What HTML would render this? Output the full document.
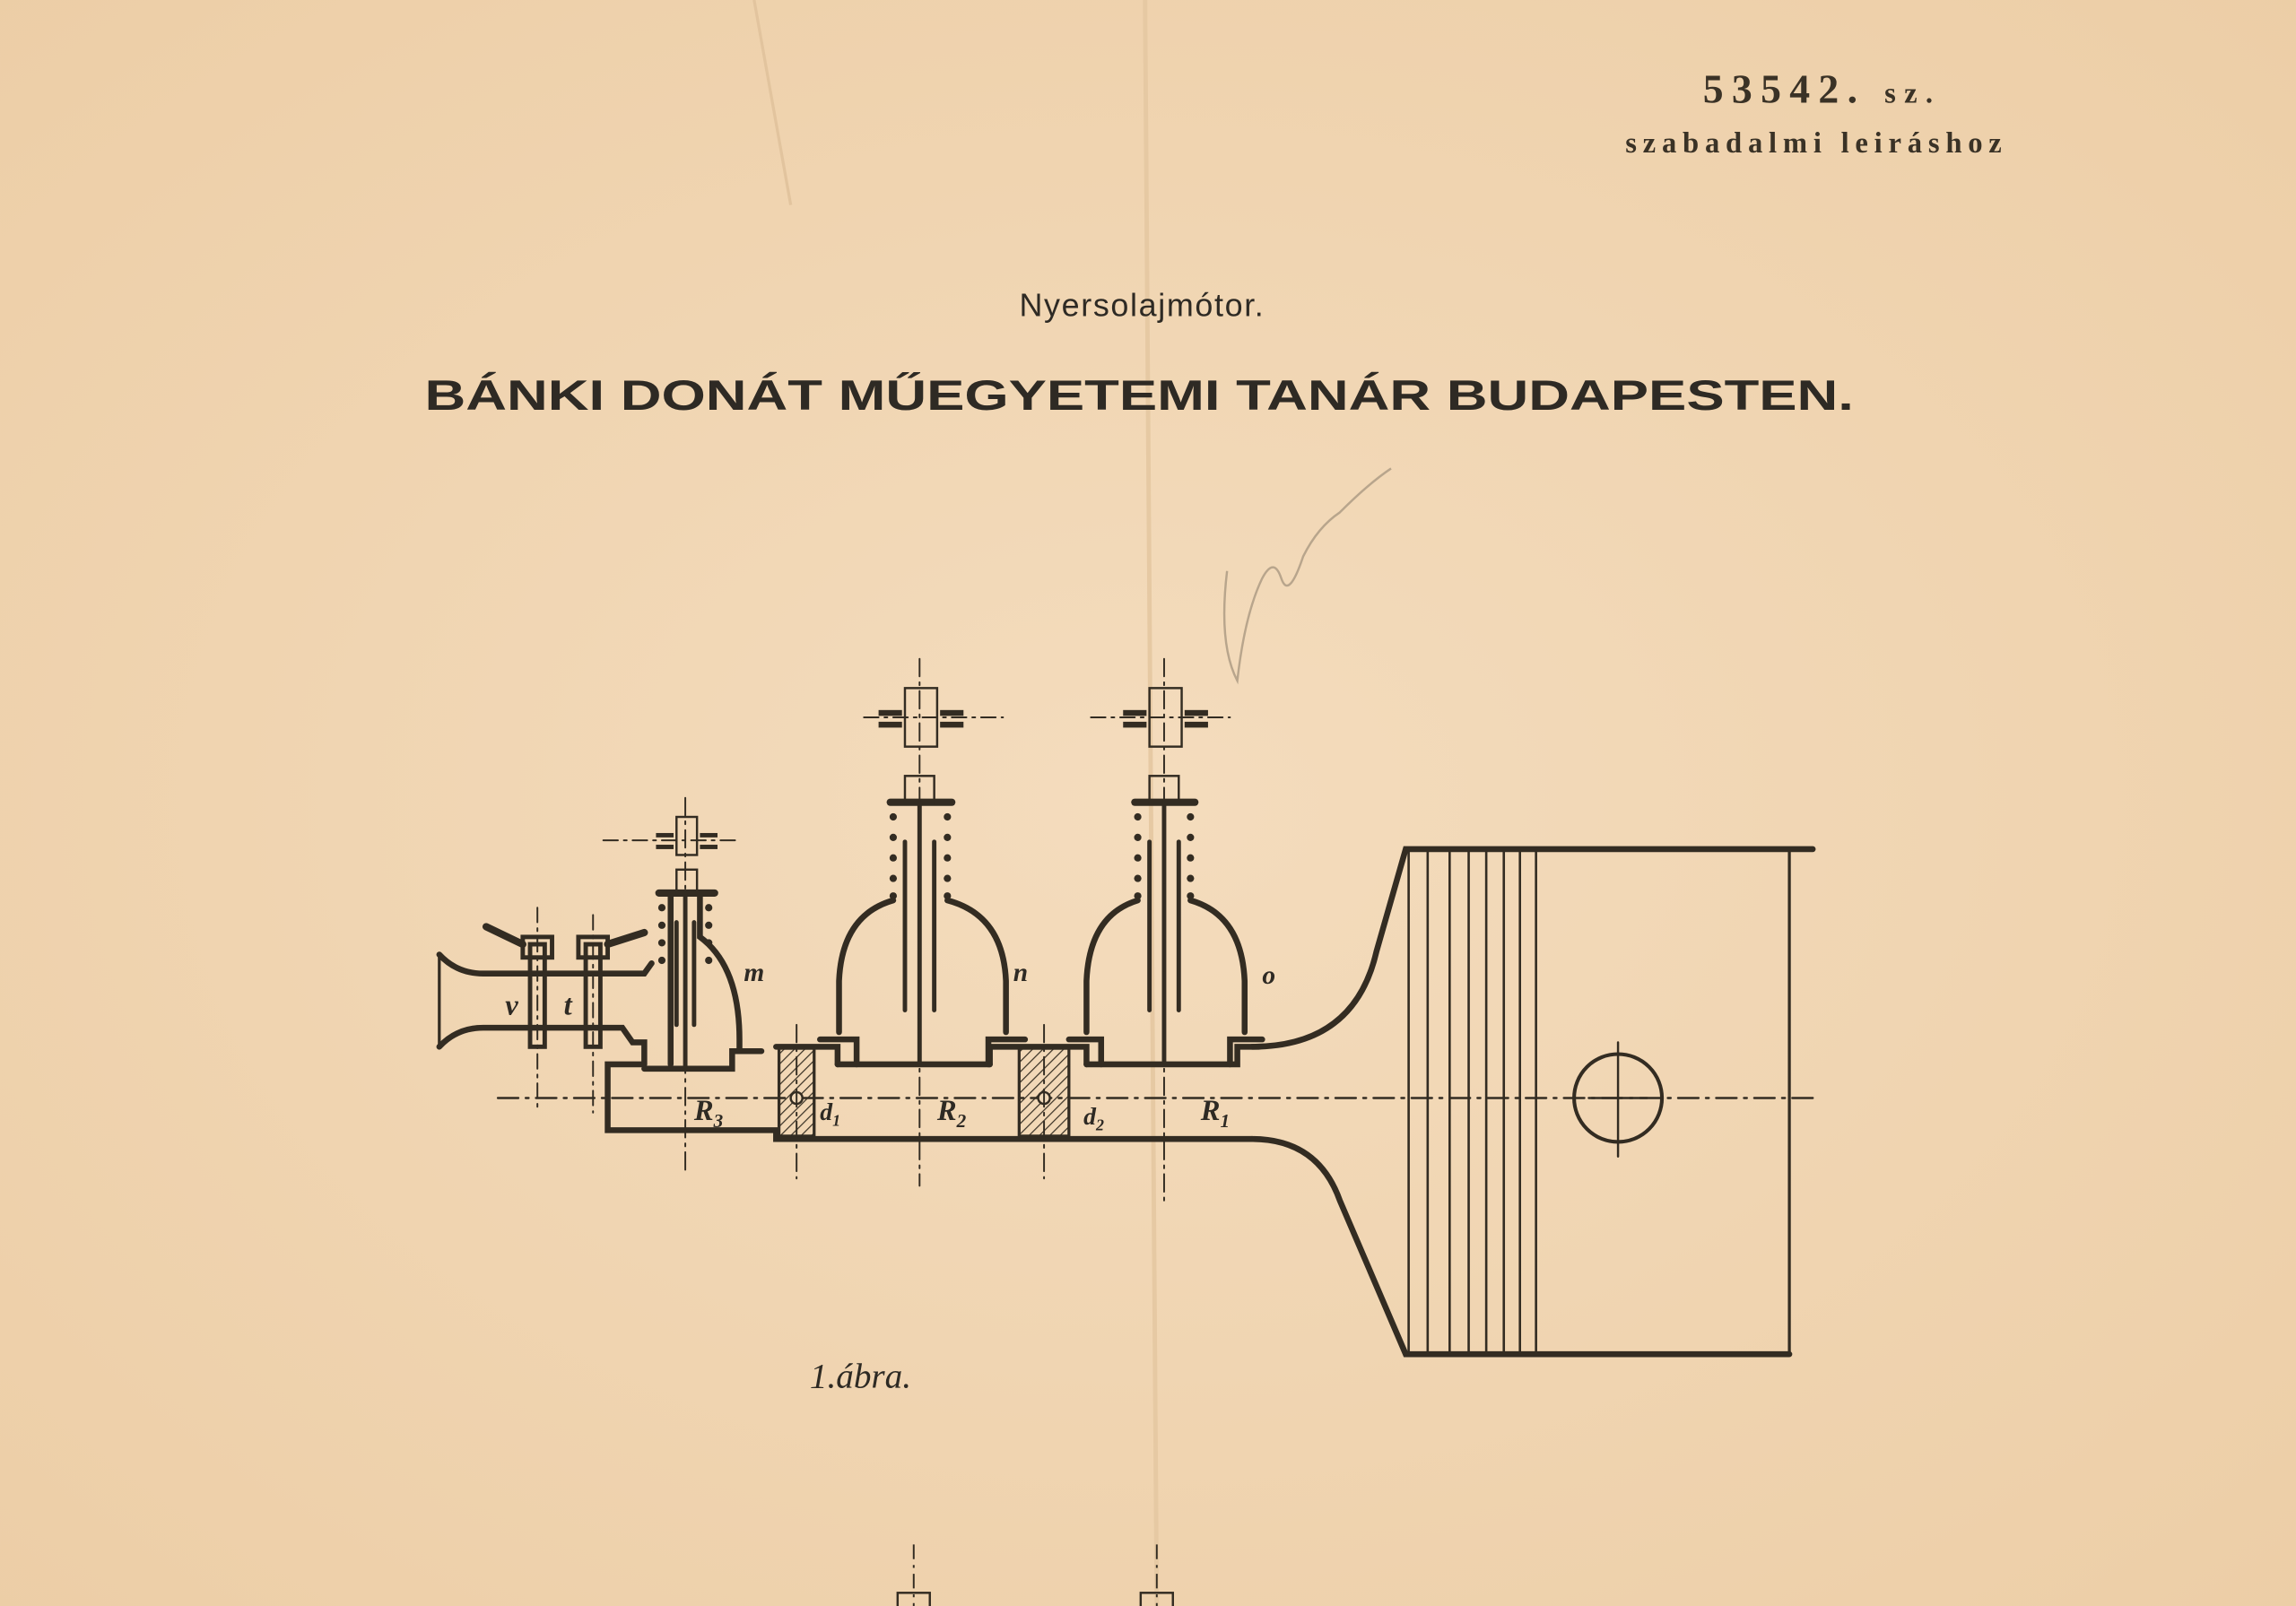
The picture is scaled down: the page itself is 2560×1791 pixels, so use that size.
<!DOCTYPE html>
<html><head><meta charset="utf-8"><style>
html,body{margin:0;padding:0;background:#f0d6b3;}
svg{display:block;}
</style></head><body>
<svg width="2560" height="1791" viewBox="0 0 1568 1097" xmlns="http://www.w3.org/2000/svg">
<defs>
<radialGradient id="bg" cx="50%" cy="50%" r="75%">
<stop offset="0" stop-color="#f4dcbd"/><stop offset="1" stop-color="#eccda5"/></radialGradient>
<pattern id="hat" width="5" height="5" patternUnits="userSpaceOnUse" patternTransform="rotate(45)">
<line x1="0" y1="0" x2="0" y2="5" stroke="#3a3226" stroke-width="1.5"/></pattern>
</defs>
<rect width="1568" height="1097" fill="url(#bg)"/>
<line x1="515" y1="0" x2="540" y2="140" stroke="#e2c49e" stroke-width="2"/>
<line x1="782" y1="0" x2="790" y2="1097" stroke="#e6c9a3" stroke-width="3"/>
<g font-family="Liberation Serif, serif" font-weight="bold" fill="#3a3226">
<text x="1163" y="70" font-size="28" textLength="157" lengthAdjust="spacing">53542. <tspan font-size="20">sz.</tspan></text>
<text x="1110" y="104" font-size="20" textLength="257" lengthAdjust="spacing">szabadalmi leiráshoz</text>
</g>
<g font-family="Liberation Sans, sans-serif" fill="#2e2a24" text-anchor="middle">
<text x="780" y="216" font-size="22" letter-spacing="1">Nyersolajmótor.</text>
<text x="778" y="280" font-size="29" font-weight="bold" textLength="976" lengthAdjust="spacingAndGlyphs">BÁNKI DONÁT MŰEGYETEMI TANÁR BUDAPESTEN.</text>
</g>
<text x="553" y="948" font-family="Liberation Serif, serif" font-style="italic" font-size="24" fill="#2e2a24">1.ábra.</text>
<path d="M838 390 Q832 440 845 465 Q850 420 862 395 Q870 380 875 395 Q880 410 890 380 Q900 360 915 350 Q935 330 950 320" stroke="#b8a58c" fill="none" stroke-width="1.5"/>
<g stroke="#332c22" fill="none" stroke-linecap="round">
<path d="M855 715 Q925 715 940 650 L960 580 L1238 580" stroke-width="4"/>
<path d="M855 778 Q900 778 915 820 L960 925 L1222 925" stroke-width="4"/>
<line x1="1222" y1="580" x2="1222" y2="925" stroke-width="2"/>
<g stroke-width="1.6">
<line x1="962" y1="582" x2="962" y2="923"/><line x1="975" y1="582" x2="975" y2="923"/>
<line x1="990" y1="582" x2="990" y2="923"/><line x1="1003" y1="582" x2="1003" y2="923"/>
<line x1="1015" y1="582" x2="1015" y2="923"/><line x1="1027" y1="582" x2="1027" y2="923"/>
<line x1="1038" y1="582" x2="1038" y2="923"/><line x1="1049" y1="582" x2="1049" y2="923"/>
</g>
<circle cx="1105" cy="750" r="30" stroke-width="2.5"/>
<line x1="1105" y1="712" x2="1105" y2="790" stroke-width="1.5"/>
<line x1="1085" y1="750" x2="1125" y2="750" stroke-width="1.5"/>
<line x1="340" y1="750" x2="1240" y2="750" stroke-width="1.5" stroke-dasharray="14 5 2 5"/>
<path d="M440 727 L415 727 L415 772 L530 772 L530 778 L855 778" stroke-width="4"/>
<path d="M440 730 L500 730 L500 718 L520 718 M572 727 L676 727 M742 727 L845 727 L845 715 L860 715" stroke-width="4"/>
<path d="M530 715 L572 715 L572 727 M676 727 L676 715 L742 715 L742 727" stroke-width="4"/>
<rect x="532" y="716" width="24" height="60" fill="url(#hat)" stroke-width="2"/>
<rect x="696" y="716" width="34" height="60" fill="url(#hat)" stroke-width="2"/>
<circle cx="544" cy="750" r="4" stroke-width="1.5" fill="#f1d9b9"/>
<circle cx="713" cy="750" r="4" stroke-width="1.5" fill="#f1d9b9"/>
<path d="M300 652 Q312 665 330 665 L440 665 L445 658" stroke-width="4"/>
<path d="M300 715 Q312 702 330 702 L425 702 L432 712 L440 712 L440 727" stroke-width="4"/>
<line x1="300" y1="652" x2="300" y2="715" stroke-width="2"/>
<g stroke-width="3">
<rect x="362" y="645" width="10" height="70"/><rect x="400" y="645" width="10" height="70"/>
<rect x="357" y="640" width="20" height="14"/><rect x="395" y="640" width="20" height="14"/>
<path d="M357 645 L332 633 M415 645 L440 637" stroke-width="5"/>
</g>
<line x1="367" y1="620" x2="367" y2="760" stroke-width="1.2" stroke-dasharray="10 4 2 4"/>
<line x1="405" y1="625" x2="405" y2="760" stroke-width="1.2" stroke-dasharray="10 4 2 4"/>
<path d="M458 727 L458 610 M478 610 L478 640 Q505 660 505 710 L505 718" stroke-width="4"/>
<line x1="450" y1="610" x2="488" y2="610" stroke-width="5"/>
<line x1="468" y1="610" x2="468" y2="730" stroke-width="3"/>
<line x1="462" y1="630" x2="462" y2="700" stroke-width="3"/>
<line x1="474" y1="630" x2="474" y2="700" stroke-width="3"/>
<rect x="462" y="594" width="14" height="16" stroke-width="1.5"/>
<rect x="462" y="558" width="14" height="26" stroke-width="1.5"/>
<line x1="412" y1="574" x2="505" y2="574" stroke-width="1.2" stroke-dasharray="10 4 2 4"/>
<line x1="468" y1="545" x2="468" y2="800" stroke-width="1.2" stroke-dasharray="12 4 2 4"/>
<path d="M573 705 L573 670 Q575 625 610 615 M647 615 Q685 625 687 670 L687 705" stroke-width="4"/>
<path d="M560 710 L585 710 L585 727 M675 727 L675 710 L700 710" stroke-width="4"/>
<line x1="608" y1="548" x2="650" y2="548" stroke-width="5"/>
<line x1="628" y1="548" x2="628" y2="727" stroke-width="3"/>
<line x1="618" y1="575" x2="618" y2="690" stroke-width="3"/>
<line x1="638" y1="575" x2="638" y2="690" stroke-width="3"/>
<rect x="618" y="530" width="20" height="18" stroke-width="1.5"/>
<rect x="618" y="470" width="22" height="40" stroke-width="1.5"/>
<line x1="590" y1="490" x2="685" y2="490" stroke-width="1.2" stroke-dasharray="10 4 2 4"/>
<line x1="628" y1="450" x2="628" y2="810" stroke-width="1.2" stroke-dasharray="12 4 2 4"/>
<path d="M742 705 L742 670 Q744 625 777 615 M813 615 Q848 625 850 670 L850 705" stroke-width="4"/>
<path d="M730 710 L752 710 L752 727 M840 727 L840 710 L862 710" stroke-width="4"/>
<line x1="775" y1="548" x2="816" y2="548" stroke-width="5"/>
<line x1="795" y1="548" x2="795" y2="727" stroke-width="3"/>
<line x1="785" y1="575" x2="785" y2="690" stroke-width="3"/>
<line x1="805" y1="575" x2="805" y2="690" stroke-width="3"/>
<rect x="785" y="530" width="20" height="18" stroke-width="1.5"/>
<rect x="785" y="470" width="22" height="40" stroke-width="1.5"/>
<line x1="745" y1="490" x2="840" y2="490" stroke-width="1.2" stroke-dasharray="10 4 2 4"/>
<line x1="795" y1="450" x2="795" y2="820" stroke-width="1.2" stroke-dasharray="12 4 2 4"/>
<line x1="544" y1="700" x2="544" y2="805" stroke-width="1.2" stroke-dasharray="12 4 2 4"/>
<line x1="713" y1="700" x2="713" y2="805" stroke-width="1.2" stroke-dasharray="12 4 2 4"/>
</g>
<g fill="#332c22">
<g><circle cx="452" cy="620" r="2.5"/><circle cx="452" cy="632" r="2.5"/><circle cx="452" cy="644" r="2.5"/><circle cx="452" cy="656" r="2.5"/><circle cx="484" cy="620" r="2.5"/><circle cx="484" cy="632" r="2.5"/><circle cx="484" cy="644" r="2.5"/><circle cx="484" cy="656" r="2.5"/></g>
<g><circle cx="610" cy="558" r="2.5"/><circle cx="610" cy="572" r="2.5"/><circle cx="610" cy="586" r="2.5"/><circle cx="610" cy="600" r="2.5"/><circle cx="610" cy="612" r="2.5"/><circle cx="647" cy="558" r="2.5"/><circle cx="647" cy="572" r="2.5"/><circle cx="647" cy="586" r="2.5"/><circle cx="647" cy="600" r="2.5"/><circle cx="647" cy="612" r="2.5"/></g>
<g><circle cx="777" cy="558" r="2.5"/><circle cx="777" cy="572" r="2.5"/><circle cx="777" cy="586" r="2.5"/><circle cx="777" cy="600" r="2.5"/><circle cx="777" cy="612" r="2.5"/><circle cx="813" cy="558" r="2.5"/><circle cx="813" cy="572" r="2.5"/><circle cx="813" cy="586" r="2.5"/><circle cx="813" cy="600" r="2.5"/><circle cx="813" cy="612" r="2.5"/></g>
<rect x="448" y="569" width="12" height="3"/><rect x="448" y="577" width="12" height="3"/><rect x="478" y="569" width="12" height="3"/><rect x="478" y="577" width="12" height="3"/>
<rect x="600" y="485" width="16" height="4"/><rect x="600" y="493" width="16" height="4"/><rect x="642" y="485" width="16" height="4"/><rect x="642" y="493" width="16" height="4"/>
<rect x="767" y="485" width="16" height="4"/><rect x="767" y="493" width="16" height="4"/><rect x="809" y="485" width="16" height="4"/><rect x="809" y="493" width="16" height="4"/>
</g>
<g font-family="Liberation Serif, serif" font-style="italic" font-weight="bold" fill="#2e2a24" font-size="20">
<text x="345" y="693">v</text><text x="385" y="693">t</text>
<text x="508" y="670" font-size="18">m</text><text x="692" y="670" font-size="18">n</text><text x="862" y="672" font-size="18">o</text>
<text x="474" y="765">R<tspan font-size="13" dy="5">3</tspan></text>
<text x="560" y="765" font-size="17">d<tspan font-size="11" dy="4">1</tspan></text>
<text x="640" y="765">R<tspan font-size="13" dy="5">2</tspan></text>
<text x="740" y="768" font-size="17">d<tspan font-size="11" dy="4">2</tspan></text>
<text x="820" y="765">R<tspan font-size="13" dy="5">1</tspan></text>
</g>
<g stroke="#332c22" fill="none">
<line x1="624" y1="1055" x2="624" y2="1097" stroke-width="1.2" stroke-dasharray="10 4 2 4"/>
<line x1="790" y1="1055" x2="790" y2="1097" stroke-width="1.2" stroke-dasharray="10 4 2 4"/>
<rect x="613" y="1088" width="22" height="12" stroke-width="1.5"/>
<rect x="779" y="1088" width="22" height="12" stroke-width="1.5"/>
</g>
</svg>
</body></html>
